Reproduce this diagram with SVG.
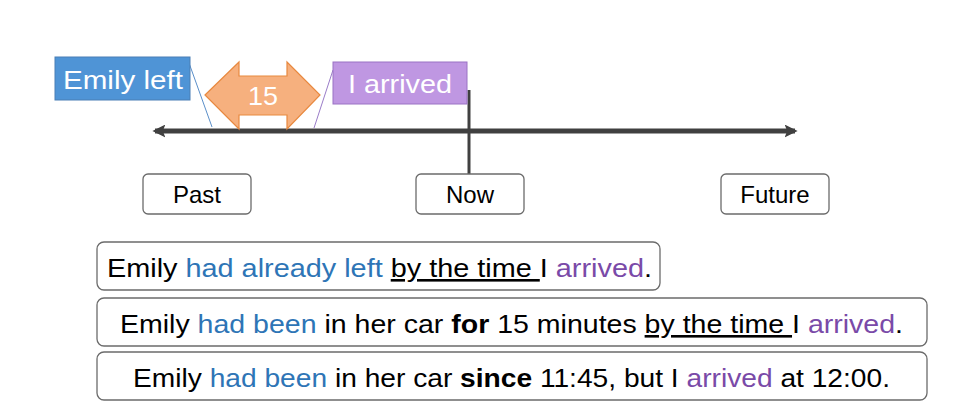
<svg xmlns="http://www.w3.org/2000/svg" width="961" height="420" viewBox="0 0 961 420">
<defs>
<style>
.t{font-family:"Liberation Sans",Arial,sans-serif}
.box{fill:#fff;stroke:#6b6b6b;stroke-width:1.3}
.lbl{font-size:24px;fill:#000;text-anchor:middle}
.sent{font-size:26px;fill:#000}
.b{fill:#2e75b6}
.p{fill:#7a4aa8}
.w{fill:#fff}
.u{text-decoration:underline}
</style>
<marker id="ah" viewBox="0 0 10 10" refX="8" refY="5" markerWidth="2.6" markerHeight="2.6" orient="auto-start-reverse">
<path d="M0,0 L10,5 L0,10 L2,5 Z" fill="#404040"/>
</marker>
</defs>
<rect width="961" height="420" fill="#fff"/>
<g id="connectors">
<line x1="155" y1="131" x2="795" y2="131" stroke="#404040" stroke-width="5" marker-start="url(#ah)" marker-end="url(#ah)"/>
<line x1="469" y1="90" x2="469" y2="174" stroke="#404040" stroke-width="3"/>
<line x1="189" y1="63" x2="212" y2="127" stroke="#5b8fc9" stroke-width="1"/>
<line x1="333" y1="70" x2="314" y2="128" stroke="#9a7cc8" stroke-width="1"/>
</g>
<g id="emily-left">
<rect x="55" y="57" width="135" height="43" fill="#4f94d6" stroke="#4a7fb5" stroke-width="1"/>
<text class="t w" x="63" y="89" font-size="26" textLength="120" lengthAdjust="spacingAndGlyphs">Emily left</text>
</g>
<g id="arrow-15">
<path d="M205,95 L239,62 L239,76 L287,76 L287,62 L320,95 L287,129 L287,115 L239,115 L239,129 Z" fill="#f6b07e" stroke="#e8893f" stroke-width="1.2"/>
<text class="t w" x="248" y="105" font-size="26" textLength="30" lengthAdjust="spacingAndGlyphs">15</text>
</g>
<g id="i-arrived">
<rect x="333" y="62" width="134" height="42" fill="#bf97e2" stroke="#9a72c4" stroke-width="1"/>
<text class="t w" x="348" y="93" font-size="26" textLength="104" lengthAdjust="spacingAndGlyphs">I arrived</text>
</g>
<g id="past">
<rect class="box" x="143" y="174" width="108" height="40" rx="5"/>
<text class="t lbl" x="197" y="203">Past</text>
</g>
<g id="now">
<rect class="box" x="416" y="174" width="108" height="40" rx="5"/>
<text class="t lbl" x="470" y="203">Now</text>
</g>
<g id="future">
<rect class="box" x="721" y="174" width="108" height="40" rx="5"/>
<text class="t lbl" x="775" y="203">Future</text>
</g>
<g id="sentence-1">
<rect class="box" x="97" y="242" width="563" height="48" rx="7"/>
<text class="t sent" x="107" y="277" textLength="545" lengthAdjust="spacingAndGlyphs">Emily <tspan class="b">had already left</tspan> <tspan class="u">by the time </tspan>I <tspan class="p">arrived</tspan>.</text>
</g>
<g id="sentence-2">
<rect class="box" x="97" y="298" width="830" height="48" rx="7"/>
<text class="t sent" x="120" y="333" textLength="783" lengthAdjust="spacingAndGlyphs">Emily <tspan class="b">had been</tspan> in her car <tspan font-weight="bold">for</tspan> 15 minutes <tspan class="u">by the time </tspan>I <tspan class="p">arrived</tspan>.</text>
</g>
<g id="sentence-3">
<rect class="box" x="97" y="352" width="830" height="48" rx="7"/>
<text class="t sent" x="133" y="387" textLength="757" lengthAdjust="spacingAndGlyphs">Emily <tspan class="b">had been</tspan> in her car <tspan font-weight="bold">since</tspan> 11:45, but I <tspan class="p">arrived</tspan> at 12:00.</text>
</g>
</svg>
